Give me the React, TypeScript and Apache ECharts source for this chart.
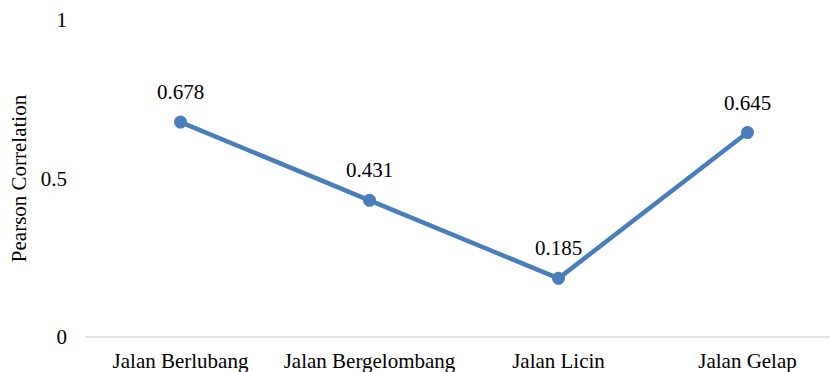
import React, { useEffect, useRef } from "react";
import * as echarts from "echarts";

const categories = ["Jalan Berlubang", "Jalan Bergelombang", "Jalan Licin", "Jalan Gelap"];
const values = [0.678, 0.431, 0.185, 0.645];
const yTicks = { min: 0, max: 1, interval: 0.5 };

const FONT = "'Times New Roman', 'Liberation Serif', 'DejaVu Serif', serif";

export default function App() {
  const ref = useRef<HTMLDivElement>(null);
  useEffect(() => {
    const chart = echarts.init(ref.current!, null, { renderer: "svg" });
    chart.setOption({
      animation: false,
      backgroundColor: "#ffffff",
      textStyle: { fontFamily: FONT },
      grid: { left: 86, top: 20, width: 756, height: 317, outerBoundsMode: "none", containLabel: false },
      xAxis: {
        type: "category",
        data: categories,
        boundaryGap: true,
        axisLine: { show: true, lineStyle: { color: "#d9d9d9", width: 1.5 } },
        axisTick: { show: false },
        axisLabel: { color: "#000", fontFamily: FONT, fontSize: 21, margin: 13, interval: 0 },
        splitLine: { show: false },
      },
      yAxis: {
        type: "value",
        min: yTicks.min,
        max: yTicks.max,
        interval: yTicks.interval,
        name: "Pearson Correlation",
        nameLocation: "middle",
        nameGap: 55,
        nameTextStyle: { color: "#000", fontFamily: FONT, fontSize: 21 },
        axisLine: { show: false },
        axisTick: { show: false },
        splitLine: { show: false },
        axisLabel: { color: "#000", fontFamily: FONT, fontSize: 21, margin: 19 },
      },
      series: [
        {
          type: "line",
          data: values,
          symbol: "circle",
          symbolSize: 13,
          lineStyle: { color: "#4a7ebb", width: 4.5 },
          itemStyle: { color: "#4a7ebb" },
          label: {
            show: true,
            position: "top",
            distance: 13,
            color: "#000",
            fontFamily: FONT,
            fontSize: 21,
            formatter: (p: any) => p.value.toFixed(3),
          },
        },
      ],
    });
    return () => chart.dispose();
  }, []);
  return (
    <div
      ref={ref}
      style={{ position: "fixed", left: 0, top: 0, width: 830, height: 372, background: "#fff" }}
    />
  );
}
